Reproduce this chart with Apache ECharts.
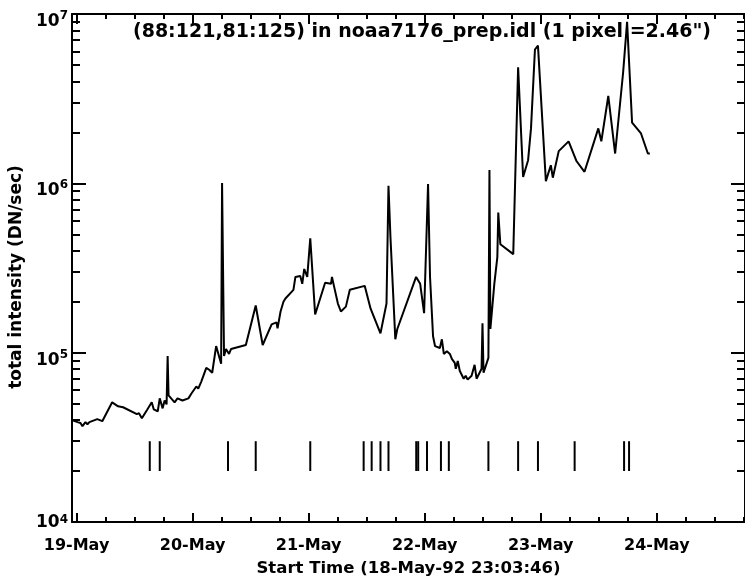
<!DOCTYPE html>
<html>
<head>
<meta charset="utf-8">
<script src="https://cdn.jsdelivr.net/npm/echarts@6/dist/echarts.min.js"></script>
<style>
  html, body { margin: 0; padding: 0; background: #fff; }
  #chart { width: 745px; height: 582px; }
</style>
</head>
<body>
<div id="chart"></div>
<script>
// Time of each sample, as fractional day of May 1992
const dayOfMay = [
  18.966, 19.009, 19.034, 19.051, 19.077, 19.094, 19.111, 19.179, 19.222, 19.307,
  19.358, 19.401, 19.520, 19.538, 19.563, 19.606, 19.648, 19.665, 19.700, 19.717,
  19.742, 19.759, 19.776, 19.785, 19.793, 19.845, 19.870, 19.913, 19.964, 19.990,
  20.032, 20.049, 20.075, 20.118, 20.143, 20.169, 20.203, 20.220, 20.246, 20.254,
  20.271, 20.288, 20.314, 20.331, 20.459, 20.544, 20.604, 20.681, 20.723, 20.732,
  20.758, 20.783, 20.800, 20.869, 20.886, 20.928, 20.945, 20.962, 20.988, 21.014,
  21.056, 21.142, 21.193, 21.201, 21.218, 21.252, 21.278, 21.321, 21.355, 21.483,
  21.534, 21.619, 21.671, 21.688, 21.705, 21.747, 21.764, 21.926, 21.961, 21.995,
  22.029, 22.046, 22.072, 22.089, 22.131, 22.148, 22.165, 22.191, 22.217, 22.234,
  22.259, 22.268, 22.285, 22.302, 22.336, 22.353, 22.370, 22.404, 22.430, 22.447,
  22.490, 22.498, 22.507, 22.549, 22.558, 22.566, 22.600, 22.626, 22.634, 22.652,
  22.763, 22.805, 22.848, 22.891, 22.916, 22.950, 22.976, 23.044, 23.087, 23.104,
  23.155, 23.240, 23.309, 23.377, 23.496, 23.522, 23.582, 23.641, 23.710, 23.744,
  23.787, 23.864, 23.923, 23.940
];

// Total intensity in the box (DN/sec)
const intensity = [
  39900, 38900, 38400, 36800, 38900, 37800, 38900, 40500, 39400, 50900,
  48200, 47600, 43300, 43900, 41000, 45700, 50900, 46300, 45100, 53700,
  46900, 52200, 49500, 95600, 55900, 50900, 53700, 52200, 53700, 57400,
  63100, 61400, 67500, 81400, 79300, 76100, 109400, 99600, 85900, 1005000,
  95600, 105000, 98300, 105000, 111000, 190000, 111000, 147000, 151000, 139000,
  175000, 200000, 209000, 235000, 280000, 284000, 255000, 312000, 280000, 474000,
  168000, 259000, 255000, 280000, 248000, 195000, 175000, 187000, 235000, 248000,
  182000, 130000, 195000, 966000, 480000, 120000, 138000, 280000, 255000, 171000,
  992000, 280000, 125000, 109400, 106500, 120000, 98300, 102000, 98300, 91900,
  87100, 80300, 89400, 78200, 70200, 73100, 69300, 73100, 84800, 70200,
  80300, 149000, 76100, 93100, 1200000, 138000, 255000, 367000, 672000, 437000,
  382000, 4850000, 1090000, 1370000, 2110000, 6170000, 6510000, 1030000, 1280000, 1080000,
  1550000, 1770000, 1350000, 1170000, 2110000, 1770000, 3280000, 1500000, 4530000, 8990000,
  2280000, 1970000, 1500000, 1500000
];

// Event markers (fractional day of May) and the intensity band they span
const eventDays = [
  19.631, 19.717, 20.305, 20.544, 21.014, 21.474, 21.543, 21.619, 21.688, 21.927,
  21.944, 22.020, 22.140, 22.208, 22.549, 22.805, 22.976, 23.292, 23.718, 23.761
];
const eventBand = [2e4, 3e4];

// Axis ticks and labels
const dayTicks = [19, 20, 21, 22, 23, 24];
const dayLabel = d => d + '-May';
const decadeExps = [4, 5, 6];
const minorMultipliers = [2, 3, 4, 5, 6, 7, 8, 9];

const titleText = '(88:121,81:125) in noaa7176_prep.idl (1 pixel =2.46")';
const xName = 'Start Time (18-May-92 23:03:46)';
const yName = 'total intensity (DN/sec)';

// 18-May-92 23:03:46 as a fractional day of May
const X_MIN = 18 + (23 * 3600 + 3 * 60 + 46) / 86400;
const X_MAX = 24.76;

const quarterTicks = [];
for (let d = 18; d <= 24; d++) {
  [0.25, 0.5, 0.75].forEach(q => {
    const v = d + q;
    if (v > X_MIN && v < X_MAX) quarterTicks.push(v);
  });
}
const minorExpTicks = [];
decadeExps.forEach(n => minorMultipliers.forEach(k => minorExpTicks.push(Math.log10(k * Math.pow(10, n)))));

const FONT = 'DejaVu Sans';
const INK = '#000';
const lineW = 2;

function xAxisDef(position, major, opts) {
  return Object.assign({
    type: 'value', min: X_MIN, max: X_MAX, position: position,
    axisLine: { show: false },
    splitLine: { show: false },
    axisLabel: { show: false },
    axisTick: {
      show: true, inside: true,
      length: major ? (position === 'bottom' ? 9 : 10) : 5,
      customValues: major ? dayTicks : quarterTicks,
      lineStyle: { color: INK, width: lineW }
    }
  }, opts || {});
}

function yMinorDef(position) {
  return {
    type: 'value', min: 4, max: 7, position: position,
    axisLine: { show: false }, splitLine: { show: false }, axisLabel: { show: false },
    axisTick: { show: true, inside: true, length: 8, customValues: minorExpTicks,
      lineStyle: { color: INK, width: lineW } }
  };
}

const chart = echarts.init(document.getElementById('chart'), null, { renderer: 'canvas' });

chart.setOption({
  animation: false,
  backgroundColor: '#fff',
  title: {
    text: titleText,
    left: 133, top: 23, padding: 0,
    textStyle: { fontFamily: FONT, fontSize: 19, fontWeight: 'bold', color: INK }
  },
  grid: { left: 72, right: -6, top: 14, bottom: 54, containLabel: false },
  xAxis: [
    xAxisDef('bottom', true, {
      axisLine: { show: true, lineStyle: { color: INK, width: lineW } },
      axisLabel: {
        show: true, customValues: dayTicks, formatter: dayLabel,
        fontFamily: FONT, fontSize: 16, fontWeight: 'bold', color: INK, margin: 16
      },
      name: xName, nameLocation: 'middle', nameGap: 38,
      nameTextStyle: { fontFamily: FONT, fontSize: 16.5, fontWeight: 'bold', color: INK }
    }),
    xAxisDef('bottom', false),
    xAxisDef('top', true, { axisLine: { show: true, lineStyle: { color: INK, width: lineW } } }),
    xAxisDef('top', false)
  ],
  yAxis: [
    {
      type: 'log', logBase: 10, min: 1e4, max: 1e7, position: 'left',
      axisLine: { show: true, lineStyle: { color: INK, width: lineW } },
      splitLine: { show: false },
      axisTick: { show: true, inside: true, length: 14, lineStyle: { color: INK, width: lineW } },
      axisLabel: {
        margin: 4,
        formatter: v => {
          const e = Math.round(Math.log10(v));
          return e === 4 ? '{c|10}{d|' + e + '}' : '{b|10}{s|' + e + '}';
        },
        rich: {
          b: { fontFamily: FONT, fontSize: 17, fontWeight: 'bold', color: INK, lineHeight: 16, verticalAlign: 'top', padding: [7, 0, 0, 0] },
          s: { fontFamily: FONT, fontSize: 12, fontWeight: 'bold', color: INK, lineHeight: 12, verticalAlign: 'top', padding: [4, 0, 0, 0] },
          c: { fontFamily: FONT, fontSize: 17, fontWeight: 'bold', color: INK, lineHeight: 16, verticalAlign: 'top', padding: [0, 0, 10, 0] },
          d: { fontFamily: FONT, fontSize: 12, fontWeight: 'bold', color: INK, lineHeight: 12, verticalAlign: 'top', padding: [0, 0, 0, 0] }
        }
      },
      name: yName, nameLocation: 'middle', nameGap: 46,
      nameTextStyle: { fontFamily: FONT, fontSize: 17, fontWeight: 'bold', color: INK, padding: [0, 18, 0, 0] }
    },
    yMinorDef('left'),
    {
      type: 'log', logBase: 10, min: 1e4, max: 1e7, position: 'right',
      axisLine: { show: true, lineStyle: { color: INK, width: lineW } },
      splitLine: { show: false }, axisLabel: { show: false },
      axisTick: { show: true, inside: true, length: 14, lineStyle: { color: INK, width: lineW } }
    },
    yMinorDef('right')
  ],
  series: [
    {
      type: 'line',
      xAxisIndex: 0, yAxisIndex: 0,
      data: dayOfMay.map((d, i) => [d, intensity[i]]),
      symbol: 'none',
      lineStyle: { color: INK, width: 2 },
      z: 3
    },
    {
      type: 'custom',
      xAxisIndex: 0, yAxisIndex: 0,
      data: eventDays.map(d => [d]),
      encode: { x: 0 },
      renderItem: (params, api) => {
        const t = api.value(0);
        const p0 = api.coord([t, eventBand[0]]);
        const p1 = api.coord([t, eventBand[1]]);
        return {
          type: 'line',
          shape: { x1: p0[0], y1: p0[1], x2: p1[0], y2: p1[1] },
          style: { stroke: INK, lineWidth: 2 }
        };
      },
      z: 3
    }
  ]
});
</script>
</body>
</html>
